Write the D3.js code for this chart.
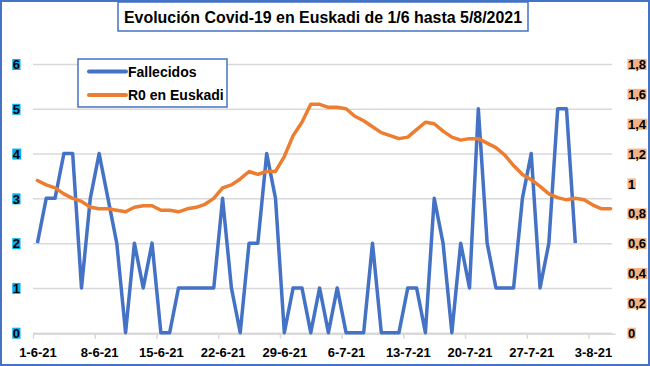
<!DOCTYPE html>
<html>
<head>
<meta charset="utf-8">
<script src="https://cdn.jsdelivr.net/npm/d3@7"></script>
<style>
  body { margin: 0; background: #fff; }
  svg text { font-family: "Liberation Sans", Arial, sans-serif; font-weight: bold; fill: #000; }
</style>
</head>
<body>
<script>
// chart size
var width = 650
var height = 366

// categories: one per day, 1-6-2021 .. 5-8-2021
const startDate = new Date(Date.UTC(2021, 5, 1))
const endDate = new Date(Date.UTC(2021, 7, 6))
const dates = d3.utcDay.range(startDate, endDate)

// fallecidos per day (1-6 .. 1-8)
const fallecidos = [
    2, 3, 3, 4, 4, 1, 3, 4, 3, 2,
    0, 2, 1, 2, 0, 0, 1, 1, 1, 1,
    1, 3, 1, 0, 2, 2, 4, 3, 0, 1,
    1, 0, 1, 0, 1, 0, 0, 0, 2, 0,
    0, 0, 1, 1, 0, 3, 2, 0, 2, 1,
    5, 2, 1, 1, 1, 3, 4, 1, 2, 5,
    5, 2
]

// R0 en Euskadi per day (1-6 .. 5-8)
const r0 = [
    1.02, 0.99, 0.97, 0.93, 0.90, 0.88, 0.84, 0.83, 0.83, 0.82,
    0.81, 0.84, 0.85, 0.85, 0.82, 0.82, 0.81, 0.83, 0.84, 0.86,
    0.90, 0.97, 0.99, 1.03, 1.08, 1.06, 1.08, 1.08, 1.18, 1.32,
    1.41, 1.53, 1.53, 1.51, 1.51, 1.50, 1.45, 1.42, 1.38, 1.34,
    1.32, 1.30, 1.31, 1.36, 1.41, 1.40, 1.35, 1.31, 1.29, 1.30,
    1.30, 1.27, 1.24, 1.19, 1.12, 1.06, 1.025, 0.98, 0.93, 0.905,
    0.89, 0.90, 0.89, 0.855, 0.83, 0.83
]

const leftTicks = [0, 1, 2, 3, 4, 5, 6]
const rightTicks = [0, 0.2, 0.4, 0.6, 0.8, 1, 1.2, 1.4, 1.6, 1.8]
const xTickLabels = ["1-6-21", "8-6-21", "15-6-21", "22-6-21", "29-6-21",
                     "6-7-21", "13-7-21", "20-7-21", "27-7-21", "3-8-21"]

const title = "Evolución Covid-19 en Euskadi de 1/6 hasta 5/8/2021"
const seriesNames = ["Fallecidos", "R0 en Euskadi"]
const colors = ["#4472C4", "#ED7D31"]

var plot = { left: 33, right: 615, top: 64, bottom: 332.7 }

var svg = d3.select("body").append("svg")
    .attr("width", width)
    .attr("height", height)

// outer frame
svg.append("rect")
    .attr("x", 1).attr("y", 1)
    .attr("width", width - 2).attr("height", height - 2)
    .attr("fill", "#fff")
    .attr("stroke", "#4472C4")
    .attr("stroke-width", 2)

var xScale = d3.scaleUtc()
    .domain([startDate, endDate])
    .range([plot.left, plot.right])
var halfDay = (xScale(dates[1]) - xScale(dates[0])) / 2

var yLeft = d3.scaleLinear().domain([0, 6]).range([plot.bottom, plot.top])
var yRight = d3.scaleLinear().domain([0, 1.8]).range([plot.bottom, plot.top])

var comma = d3.formatLocale({ decimal: ",", thousands: ".", grouping: [3], currency: ["", "€"] }).format("~g")

function addLabelBackground(g, fill) {
    g.selectAll(".tick").each(function () {
        var t = d3.select(this).select("text")
        var bb = t.node().getBBox()
        d3.select(this).insert("rect", "text")
            .attr("x", bb.x - 0.5)
            .attr("y", -5.5)
            .attr("width", bb.width + 1)
            .attr("height", 11)
            .attr("fill", fill)
    })
}

// left axis + gridlines
var gLeft = svg.append("g")
    .attr("transform", "translate(" + plot.left + ",0)")
    .call(d3.axisLeft(yLeft).tickValues(leftTicks).tickFormat(d3.format("d"))
        .tickSize(-(plot.right - plot.left - 3)).tickPadding(13))
gLeft.select(".domain").remove()
gLeft.selectAll(".tick line").attr("stroke", "#D9D9D9").attr("stroke-width", 1.5)
gLeft.selectAll(".tick text").style("font-size", "13px").attr("dy", "0.36em")
addLabelBackground(gLeft, "#00B0F0")

// right axis
var gRight = svg.append("g")
    .attr("transform", "translate(" + plot.right + ",0)")
    .call(d3.axisRight(yRight).tickValues(rightTicks).tickSize(0).tickPadding(13).tickFormat(comma))
gRight.select(".domain").remove()
gRight.selectAll(".tick text").style("font-size", "13px").attr("dy", "0.36em")
addLabelBackground(gRight, "#F4B183")

// bottom axis: ticks at day boundaries, labels centred on the day
var weekly = dates.filter((d, i) => i % 7 === 0)
var gX = svg.append("g")
    .attr("transform", "translate(0," + (plot.bottom + 1) + ")")
    .call(d3.axisBottom(xScale).tickValues(weekly).tickSizeInner(5).tickSizeOuter(0)
        .tickFormat((d, i) => xTickLabels[i]))
gX.select(".domain").attr("stroke", "#D9D9D9").attr("stroke-width", 1.5)
gX.selectAll(".tick line").attr("stroke", "#D9D9D9").attr("stroke-width", 1.5)
gX.selectAll(".tick text")
    .attr("x", halfDay)
    .attr("y", 14)
    .style("font-size", "13px")

// lines
var lineLeft = d3.line()
    .x((d, i) => xScale(dates[i]) + halfDay)
    .y(d => yLeft(d))
var lineRight = d3.line()
    .x((d, i) => xScale(dates[i]) + halfDay)
    .y(d => yRight(d))

svg.append("path")
    .datum(fallecidos)
    .attr("d", lineLeft)
    .attr("fill", "none")
    .attr("stroke", colors[0])
    .attr("stroke-width", 3.5)
    .attr("stroke-linejoin", "round")

svg.append("path")
    .datum(r0)
    .attr("d", lineRight)
    .attr("fill", "none")
    .attr("stroke", colors[1])
    .attr("stroke-width", 3.5)
    .attr("stroke-linejoin", "round")
    .attr("stroke-linecap", "round")

// legend
var legend = svg.append("g").attr("transform", "translate(78,59)")
legend.append("rect")
    .attr("width", 149).attr("height", 48)
    .attr("fill", "#fff")
    .attr("stroke", "#4472C4")
    .attr("stroke-width", 1.5)
seriesNames.forEach(function (name, i) {
    var y = 12.5 + i * 23.5
    legend.append("line")
        .attr("x1", 11).attr("x2", 48)
        .attr("y1", y).attr("y2", y)
        .attr("stroke", colors[i])
        .attr("stroke-width", 4)
        .attr("stroke-linecap", "round")
    legend.append("text")
        .attr("x", 50).attr("y", y)
        .attr("dy", "0.36em")
        .style("font-size", "14px")
        .text(name)
})

// title
var titleBox = svg.append("g").attr("transform", "translate(118,2)")
titleBox.append("rect")
    .attr("width", 410).attr("height", 29)
    .attr("fill", "#fff")
    .attr("stroke", "#4472C4")
    .attr("stroke-width", 1.5)
titleBox.append("text")
    .attr("x", 205).attr("y", 21)
    .attr("text-anchor", "middle")
    .attr("textLength", 398)
    .attr("lengthAdjust", "spacingAndGlyphs")
    .style("font-size", "17px")
    .text(title)
</script>
</body>
</html>
